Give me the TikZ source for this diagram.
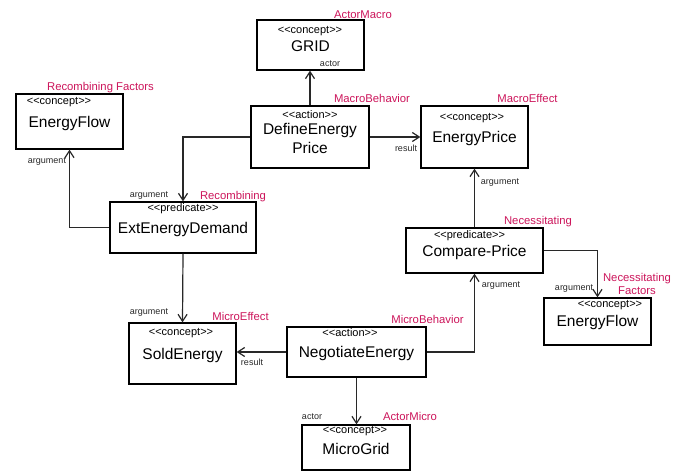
\documentclass[tikz,border=0pt]{standalone}
\usepackage{fontspec}
\setmainfont{Liberation Sans}
\usetikzlibrary{arrows.meta}
\definecolor{rolepink}{RGB}{204,20,90}
\definecolor{linegrey}{RGB}{40,40,40}
\tikzset{
  umlbox/.style={draw=black, line width=1.2pt, fill=white, inner sep=0pt},
  stereo/.style={font=\fontsize{11}{12}\selectfont, inner sep=0pt},
  title/.style={font=\fontsize{15.5}{17}\selectfont, inner sep=0pt, align=center},
  role/.style={font=\fontsize{11.3}{13.5}\selectfont, text=rolepink, inner sep=0pt, align=center},
  endlabel/.style={font=\fontsize{9}{10}\selectfont, text=linegrey, inner sep=0pt},
  assoc/.style={draw=linegrey, line width=1.2pt, -{Straight Barb[length=7pt,width=9pt,line width=1.2pt]}},
}
\begin{document}
\begin{tikzpicture}[x=1pt, y=-1pt]
\useasboundingbox (0,0) rectangle (680,471);

% boxes
\node[umlbox, minimum width=107pt, minimum height=50pt] (grid)    at (310.5,45) {};
\node[umlbox, minimum width=107pt, minimum height=55pt] (flowL)   at (69.5,121.5) {};
\node[umlbox, minimum width=118pt, minimum height=62pt] (define)  at (310,137) {};
\node[umlbox, minimum width=107pt, minimum height=62pt] (price)   at (474.5,137) {};
\node[umlbox, minimum width=146pt, minimum height=51pt] (ext)     at (183,227.5) {};
\node[umlbox, minimum width=137pt, minimum height=45pt] (compare) at (474.5,250.5) {};
\node[umlbox, minimum width=107pt, minimum height=47pt] (flowR)   at (597.5,321.5) {};
\node[umlbox, minimum width=107pt, minimum height=61pt] (sold)    at (182.5,353.5) {};
\node[umlbox, minimum width=139pt, minimum height=50pt] (nego)    at (356.5,352) {};
\node[umlbox, minimum width=108pt, minimum height=45pt] (micro)   at (356,447.5) {};

% box contents
\node[stereo] (gridS)    at (310,31)  {<{}<concept>{}>};
\node[title]  (gridT)    at (310.5,46) {GRID};
\node[stereo] (flowLS)   at (59,102)  {<{}<concept>{}>};
\node[title]  (flowLT)   at (69.5,123) {EnergyFlow};
\node[stereo] (defineS)  at (310,115) {<{}<action>{}>};
\node[title, font=\fontsize{15.5}{18.5}\selectfont] (defineT) at (310,138.5) {DefineEnergy\\Price};
\node[stereo] (priceS)   at (472,118) {<{}<concept>{}>};
\node[title]  (priceT)   at (474.5,138) {EnergyPrice};
\node[stereo] (extS)     at (183,209) {<{}<predicate>{}>};
\node[title]  (extT)     at (183,229) {ExtEnergyDemand};
\node[stereo] (compareS) at (469.5,236) {<{}<predicate>{}>};
\node[title]  (compareT) at (474.5,252) {Compare-Price};
\node[stereo] (flowRS)   at (610,305) {<{}<concept>{}>};
\node[title]  (flowRT)   at (597.5,322) {EnergyFlow};
\node[stereo] (soldS)    at (181,333) {<{}<concept>{}>};
\node[title]  (soldT)    at (182.5,355) {SoldEnergy};
\node[stereo] (negoS)    at (350,333) {<{}<action>{}>};
\node[title]  (negoT)    at (356.5,353) {NegotiateEnergy};
\node[stereo] (microS)   at (355,431) {<{}<concept>{}>};
\node[title]  (microT)   at (356,449) {MicroGrid};

% associations
\draw[assoc] (define.north) -- (define.north |- grid.south);
\draw[assoc] (define.east) -- (price.west);
\draw[assoc] (define.west) -| (ext.north);
\draw[assoc] (ext.west) -| (flowL.south);
\draw[assoc] (ext.south) -- (sold.north);
\draw[assoc] (nego.west) -- (sold.east |- nego.west);
\draw[assoc] (nego.south) -- (nego.south |- micro.north);
\draw[assoc] (nego.east) -| (compare.south);
\draw[assoc] (compare.north) -- (price.south);
\draw[assoc] (compare.east) -| (flowR.north);

% association end names
\node[endlabel] (eActorMacro) at (330,64)  {actor};
\node[endlabel] (eResultMacro) at (406,148) {result};
\node[endlabel] (eArgExt)     at (149,196) {argument};
\node[endlabel] (eArgFlowL)   at (47,162)  {argument};
\node[endlabel] (eArgSold)    at (149,313) {argument};
\node[endlabel] (eResultMicro) at (252,362) {result};
\node[endlabel] (eActorMicro) at (312,417) {actor};
\node[endlabel] (eArgCompare) at (501,286) {argument};
\node[endlabel] (eArgPrice)   at (500,183) {argument};
\node[endlabel] (eArgFlowR)   at (574,289) {argument};

% roles
\node[role] (rActorMacro)  at (363,15)    {ActorMacro};
\node[role] (rRecombF)     at (100.5,88)  {Recombining Factors};
\node[role] (rMacroBeh)    at (372,98)    {MacroBehavior};
\node[role] (rMacroEff)    at (527.5,98)  {MacroEffect};
\node[role] (rRecomb)      at (233,197)   {Recombining};
\node[role] (rNecess)      at (538,222)   {Necessitating};
\node[role] (rNecessF)     at (637,284)   {Necessitating\\Factors};
\node[role] (rMicroEff)    at (240.5,316) {MicroEffect};
\node[role] (rMicroBeh)    at (427.5,319) {MicroBehavior};
\node[role] (rActorMicro)  at (410,416)   {ActorMicro};
\end{tikzpicture}
\end{document}
